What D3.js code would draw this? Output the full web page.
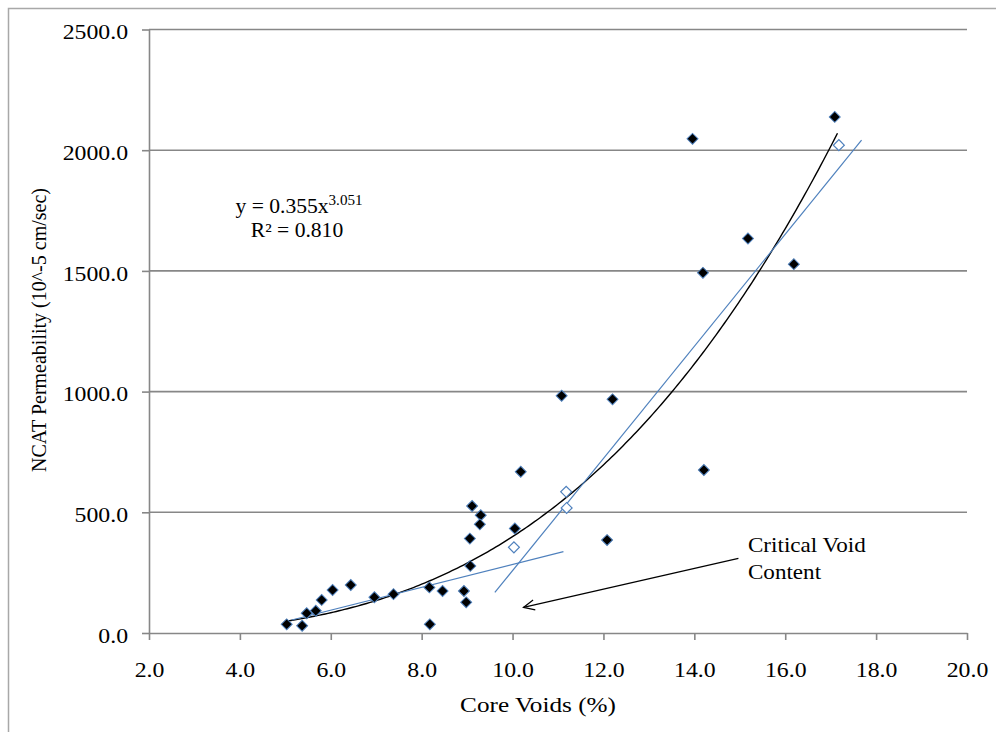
<!DOCTYPE html>
<html>
<head>
<meta charset="utf-8">
<script src="https://cdn.jsdelivr.net/npm/d3@7"></script>
<style>
  html, body { margin: 0; padding: 0; background: #ffffff; }
  svg { display: block; }
  text { font-family: "Liberation Serif", "Times New Roman", serif; fill: #000; }
</style>
</head>
<body>
<svg id="chart" width="996" height="732"></svg>
<script>
// Core voids (%) vs NCAT permeability (10^-5 cm/sec)
const voidsMain = [5.03, 5.37, 5.47, 5.67, 5.80, 6.04, 6.44, 6.96, 7.38, 8.17,
                   8.18, 8.46, 8.93, 8.98, 9.07, 9.06, 9.11, 9.30, 9.28, 10.05,
                   10.18, 11.08, 12.08, 12.20, 13.96, 14.19, 14.21, 15.18, 16.19, 17.09];
const permMain  = [36, 30, 82, 92, 137, 178, 199, 148, 161, 189,
                   36, 174, 174, 127, 278, 391, 526, 488, 450, 433,
                   668, 983, 385, 968, 2047, 1492, 675, 1634, 1528, 2138];

// Open-marker samples
const voidsOpen = [10.03, 11.18, 11.19, 17.18];
const permOpen  = [355, 585, 518, 2021];

// Power trendline y = a * x^b
const fitA = 0.355;
const fitB = 3.051;
const fitRange = [5.03, 17.15];
const fitLabel = "y = 0.355x";
const fitExp = "3.051";
const fitR2 = "R² = 0.810";

// Two linear regimes whose crossing marks the critical void content
const shallowLine = [[5.14, 54], [11.12, 337]];
const steepLine   = [[9.61, 168], [17.68, 2042]];

// Axis ticks
const xTicks = [2, 4, 6, 8, 10, 12, 14, 16, 18, 20];
const yTicks = [0, 500, 1000, 1500, 2000, 2500];

const xTitle = "Core Voids (%)";
const yTitle = "NCAT Permeability (10^-5 cm/sec)";
const noteLines = ["Critical Void", "Content"];
const noteAt = [15.18, 335];
const arrowFrom = [14.97, 309];
const arrowTo = [10.24, 106];

const svg = d3.select("#chart");
const stretch = 1.16;

const x = d3.scaleLinear().domain([2, 20]).range([149, 967]);
const y = d3.scaleLinear().domain([0, 2500]).range([633, 29.5]);

// outer frame
svg.append("rect")
  .attr("x", 8.5).attr("y", 8.5).attr("width", 1100).attr("height", 1100)
  .attr("fill", "none").attr("stroke", "#a8a8a8").attr("stroke-width", 1.5);

// horizontal gridlines
svg.append("g").selectAll("line")
  .data(yTicks.filter(d => d > 0))
  .join("line")
  .attr("x1", x(2)).attr("x2", x(20))
  .attr("y1", d => y(d)).attr("y2", d => y(d))
  .attr("stroke", "#878787").attr("stroke-width", 1.6);

// y axis
const yAxis = svg.append("g")
  .attr("transform", `translate(${x(2)},0)`)
  .call(d3.axisLeft(y).tickValues(yTicks).tickFormat(d3.format(".1f")).tickSize(7).tickSizeOuter(0));
yAxis.select(".domain").attr("stroke", "#878787").attr("stroke-width", 1.6);
yAxis.selectAll(".tick line").attr("stroke", "#878787").attr("stroke-width", 1.6);
yAxis.selectAll(".tick text")
  .attr("x", -21 / stretch).attr("dy", "0.45em")
  .attr("transform", `scale(${stretch},1)`)
  .style("font-size", "20.5px");

// x axis
const xAxis = svg.append("g")
  .attr("transform", `translate(0,${y(0)})`)
  .call(d3.axisBottom(x).tickValues(xTicks).tickFormat(d3.format(".1f")).tickSize(7).tickSizeOuter(0));
xAxis.select(".domain").attr("stroke", "#878787").attr("stroke-width", 1.6);
xAxis.selectAll(".tick line").attr("stroke", "#878787").attr("stroke-width", 1.6);
xAxis.selectAll(".tick text")
  .attr("y", 44).attr("dy", 0)
  .attr("transform", `scale(${stretch},1)`)
  .style("font-size", "20.5px");

// axis titles
svg.append("text")
  .attr("transform", `translate(538,712) scale(1.2,1)`)
  .attr("text-anchor", "middle")
  .style("font-size", "21px")
  .text(xTitle);

svg.append("text")
  .attr("transform", "translate(46,330) rotate(-90)")
  .attr("text-anchor", "middle")
  .style("font-size", "20px")
  .text(yTitle);

// power trendline
const curvePts = d3.range(0, 201).map(i => {
  const v = fitRange[0] + (fitRange[1] - fitRange[0]) * i / 200;
  return [v, fitA * Math.pow(v, fitB)];
});
const line = d3.line().x(d => x(d[0])).y(d => y(d[1]));
svg.append("path")
  .attr("d", line(curvePts))
  .attr("fill", "none").attr("stroke", "#000").attr("stroke-width", 1.4);

// linear regime lines
[shallowLine, steepLine].forEach(seg => {
  svg.append("path")
    .attr("d", line(seg))
    .attr("fill", "none").attr("stroke", "#4f81bd").attr("stroke-width", 1.2);
});

// markers
const diamond = d3.symbol().type(d3.symbolSquare).size(60);
const mainData = voidsMain.map((v, i) => [v, permMain[i]]);
const openData = voidsOpen.map((v, i) => [v, permOpen[i]]);

svg.append("g").selectAll("path")
  .data(mainData)
  .join("path")
  .attr("d", diamond)
  .attr("transform", d => `translate(${x(d[0])},${y(d[1])}) rotate(45)`)
  .attr("fill", "#000").attr("stroke", "#4f81bd").attr("stroke-width", 1);

svg.append("g").selectAll("path")
  .data(openData)
  .join("path")
  .attr("d", diamond)
  .attr("transform", d => `translate(${x(d[0])},${y(d[1])}) rotate(45)`)
  .attr("fill", "#fff").attr("stroke", "#4f81bd").attr("stroke-width", 1.2);

// fit equation
const eq = svg.append("text")
  .attr("transform", `translate(299,213) scale(1.08,1)`)
  .attr("text-anchor", "middle")
  .style("font-size", "20px");
eq.append("tspan").text(fitLabel);
eq.append("tspan").attr("dy", -8).style("font-size", "14px").text(fitExp);

svg.append("text")
  .attr("transform", `translate(297,237) scale(1.08,1)`)
  .attr("text-anchor", "middle")
  .style("font-size", "20px")
  .text(fitR2);

// annotation
svg.append("defs").append("marker")
  .attr("id", "openArrow")
  .attr("viewBox", "-12 -6 14 12")
  .attr("refX", 0).attr("refY", 0)
  .attr("markerWidth", 14).attr("markerHeight", 12)
  .attr("markerUnits", "userSpaceOnUse")
  .attr("orient", "auto")
  .append("path")
  .attr("d", "M-11,-5 L0,0 L-11,5")
  .attr("fill", "none").attr("stroke", "#000").attr("stroke-width", 1.2);

svg.append("line")
  .attr("x1", x(arrowFrom[0])).attr("y1", y(arrowFrom[1]))
  .attr("x2", x(arrowTo[0])).attr("y2", y(arrowTo[1]))
  .attr("stroke", "#000").attr("stroke-width", 1.2)
  .attr("marker-end", "url(#openArrow)");

noteLines.forEach((t, i) => {
  svg.append("text")
    .attr("transform", `translate(${x(noteAt[0])},${y(noteAt[1]) + i * 27}) scale(1.05,1)`)
    .style("font-size", "22px")
    .text(t);
});
</script>
</body>
</html>
